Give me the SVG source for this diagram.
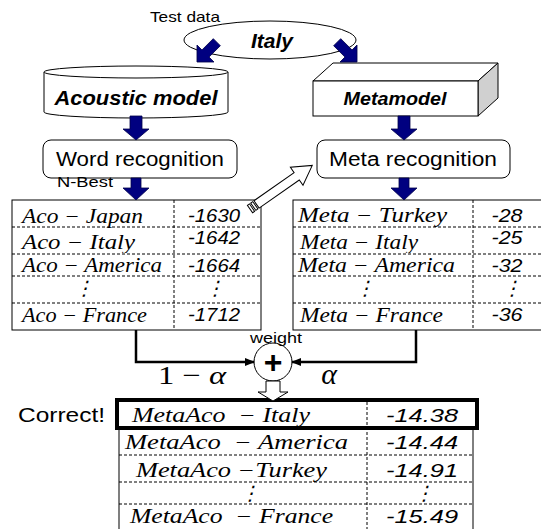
<svg xmlns="http://www.w3.org/2000/svg" width="541" height="529" viewBox="0 0 541 529">
<style>
.sans{font-family:"Liberation Sans",Arial,sans-serif;fill:#000}
.bi{font-family:"Liberation Sans",Arial,sans-serif;font-weight:bold;font-style:italic;fill:#000}
.ser{font-family:"Liberation Serif","Times New Roman",serif;font-style:italic;font-size:20px;fill:#000}
.num{font-family:"Liberation Sans",Arial,sans-serif;font-style:italic;font-size:19px;fill:#000}
.box{fill:#fff;stroke:#000;stroke-width:1}
.navy{fill:#000080;stroke:#00004a;stroke-width:0.8}
.dash{stroke:#000;stroke-width:1;stroke-dasharray:3,2;fill:none}
.conn{stroke:#000;stroke-width:2.5;fill:none}
</style>
<defs>
<marker id="ah" viewBox="0 0 10 10" refX="9" refY="5" markerWidth="4" markerHeight="4" orient="auto" markerUnits="strokeWidth">
<path d="M0,1 L10,5 L0,9 Z" fill="#000"/>
</marker>
<path id="navyDiag" d="M0,0 L-12,-12 L-12,-5 L-28,-5 L-28,5 L-12,5 L-12,12 Z"/>
<clipPath id="clipItalyL"><rect x="0" y="228" width="541" height="25"/></clipPath>
</defs>
<rect width="541" height="529" fill="#fff"/>

<g id="testdata">
<ellipse cx="270" cy="40" rx="86" ry="19" class="box"/>
<text x="150" y="22" class="sans" font-size="15" textLength="70" lengthAdjust="spacingAndGlyphs">Test data</text>
<text x="272" y="48" class="bi" font-size="21" text-anchor="middle">Italy</text>
</g>

<g id="acoustic">
<path d="M44,72 V112 A92,6 0 0 0 228,112 V72" class="box"/>
<ellipse cx="136" cy="72" rx="92" ry="6" class="box"/>
<text x="136" y="105" class="bi" font-size="20" text-anchor="middle" textLength="163" lengthAdjust="spacingAndGlyphs">Acoustic model</text>
</g>

<g id="metamodel">
<polygon points="313,81 333,63 498,63 478,81" class="box"/>
<polygon points="478,81 498,63 498,98 478,116" fill="#d0d0d0" stroke="#000" stroke-width="1"/>
<rect x="313" y="81" width="165" height="35" class="box"/>
<text x="395" y="105" class="bi" font-size="18" text-anchor="middle" textLength="103" lengthAdjust="spacingAndGlyphs">Metamodel</text>
</g>

<g id="wordrec">
<rect x="43" y="140" width="194" height="38" rx="8" class="box"/>
<text x="140" y="166" class="sans" font-size="20" text-anchor="middle" textLength="168" lengthAdjust="spacingAndGlyphs">Word recognition</text>
</g>

<g id="metarec">
<rect x="317" y="140" width="193" height="38" rx="8" class="box"/>
<text x="413" y="166" class="sans" font-size="20" text-anchor="middle" textLength="168" lengthAdjust="spacingAndGlyphs">Meta recognition</text>
</g>

<g id="acotable">
<rect x="12" y="200" width="249" height="130" class="box"/>
<line x1="174" y1="200" x2="174" y2="330" class="dash"/>
<line x1="12" y1="227" x2="261" y2="227" class="dash"/>
<line x1="12" y1="254" x2="261" y2="254" class="dash"/>
<line x1="12" y1="276" x2="261" y2="276" class="dash"/>
<line x1="12" y1="303" x2="261" y2="303" class="dash"/>
<text x="22" y="223" class="ser" textLength="121" lengthAdjust="spacingAndGlyphs">Aco − Japan</text>
<text x="22" y="249" class="ser" textLength="113" lengthAdjust="spacingAndGlyphs" clip-path="url(#clipItalyL)">Aco − Italy</text>
<text x="22" y="272" class="ser" textLength="140" lengthAdjust="spacingAndGlyphs">Aco − America</text>
<text x="84" y="295" class="ser" text-anchor="middle">⋮</text>
<text x="22" y="322" class="ser" textLength="125" lengthAdjust="spacingAndGlyphs">Aco − France</text>
<text x="214" y="222" class="num" text-anchor="middle" textLength="52" lengthAdjust="spacingAndGlyphs">-1630</text>
<text x="214" y="244" class="num" text-anchor="middle" textLength="52" lengthAdjust="spacingAndGlyphs">-1642</text>
<text x="214" y="272" class="num" text-anchor="middle" textLength="52" lengthAdjust="spacingAndGlyphs">-1664</text>
<text x="215" y="295" class="ser" text-anchor="middle">⋮</text>
<text x="214" y="321" class="num" text-anchor="middle" textLength="52" lengthAdjust="spacingAndGlyphs">-1712</text>
</g>

<g id="metatable">
<rect x="293" y="200" width="260" height="130" class="box"/>
<line x1="473" y1="200" x2="473" y2="330" class="dash"/>
<line x1="293" y1="227" x2="541" y2="227" class="dash"/>
<line x1="293" y1="254" x2="541" y2="254" class="dash"/>
<line x1="293" y1="276" x2="541" y2="276" class="dash"/>
<line x1="293" y1="303" x2="541" y2="303" class="dash"/>
<text x="298" y="222" class="ser" textLength="149" lengthAdjust="spacingAndGlyphs">Meta − Turkey</text>
<text x="300" y="249" class="ser" textLength="118" lengthAdjust="spacingAndGlyphs" clip-path="url(#clipItalyL)">Meta − Italy</text>
<text x="298" y="272" class="ser" textLength="157" lengthAdjust="spacingAndGlyphs">Meta − America</text>
<text x="365" y="295" class="ser" text-anchor="middle">⋮</text>
<text x="300" y="322" class="ser" textLength="143" lengthAdjust="spacingAndGlyphs">Meta − France</text>
<text x="507" y="222" class="num" text-anchor="middle" textLength="31" lengthAdjust="spacingAndGlyphs">-28</text>
<text x="507" y="244" class="num" text-anchor="middle" textLength="31" lengthAdjust="spacingAndGlyphs">-25</text>
<text x="507" y="272" class="num" text-anchor="middle" textLength="31" lengthAdjust="spacingAndGlyphs">-32</text>
<text x="512" y="295" class="ser" text-anchor="middle">⋮</text>
<text x="507" y="321" class="num" text-anchor="middle" textLength="31" lengthAdjust="spacingAndGlyphs">-36</text>
</g>

<g id="nbest">
<text x="57" y="187" class="sans" font-size="15" textLength="56" lengthAdjust="spacingAndGlyphs">N-Best</text>
</g>

<g id="combiner">
<circle cx="273" cy="362" r="19" class="box"/>
<text x="273" y="373" class="sans" font-size="32" font-weight="bold" text-anchor="middle">+</text>
<text x="276" y="343" class="sans" font-size="15" text-anchor="middle" textLength="52" lengthAdjust="spacingAndGlyphs">weight</text>
</g>

<g id="labels">
<text x="158" y="384" font-family="Liberation Serif,'Times New Roman',serif" font-size="26" textLength="68" lengthAdjust="spacingAndGlyphs">1 − <tspan font-style="italic">α</tspan></text>
<text x="329" y="384" font-family="Liberation Serif,'Times New Roman',serif" font-size="30" font-style="italic" text-anchor="middle">α</text>
<text x="18" y="422" class="sans" font-size="20" textLength="87" lengthAdjust="spacingAndGlyphs">Correct!</text>
</g>

<g id="resulttable">
<rect x="119" y="428" width="354" height="110" class="box"/>
<line x1="367" y1="402" x2="367" y2="529" class="dash"/>
<line x1="119" y1="455" x2="473" y2="455" class="dash"/>
<line x1="119" y1="482" x2="473" y2="482" class="dash"/>
<line x1="119" y1="504" x2="473" y2="504" class="dash"/>
<text x="132" y="422" class="ser" textLength="178" lengthAdjust="spacingAndGlyphs" xml:space="preserve">MetaAco  − Italy</text>
<text x="125" y="449" class="ser" textLength="223" lengthAdjust="spacingAndGlyphs" xml:space="preserve">MetaAco  − America</text>
<text x="136" y="477" class="ser" textLength="191" lengthAdjust="spacingAndGlyphs">MetaAco −Turkey</text>
<text x="250" y="500" class="ser" text-anchor="middle">⋮</text>
<text x="130" y="523" class="ser" textLength="203" lengthAdjust="spacingAndGlyphs" xml:space="preserve">MetaAco  − France</text>
<text x="422" y="422" class="num" text-anchor="middle" textLength="72" lengthAdjust="spacingAndGlyphs">-14.38</text>
<text x="422" y="449" class="num" text-anchor="middle" textLength="72" lengthAdjust="spacingAndGlyphs">-14.44</text>
<text x="422" y="477" class="num" text-anchor="middle" textLength="72" lengthAdjust="spacingAndGlyphs">-14.91</text>
<text x="424" y="500" class="ser" text-anchor="middle">⋮</text>
<text x="422" y="523" class="num" text-anchor="middle" textLength="72" lengthAdjust="spacingAndGlyphs">-15.49</text>
<rect x="117" y="400" width="360" height="28" fill="none" stroke="#000" stroke-width="4"/>
</g>

<g id="connectors">
<use href="#navyDiag" class="navy" transform="translate(197,62) rotate(135)"/>
<use href="#navyDiag" class="navy" transform="translate(357,62) rotate(45)"/>
<path d="M130,116 V129 H123 L136,140 L149,129 H142 V116 Z" class="navy"/>
<path d="M398,116 V129 H391 L404,140 L417,129 H410 V116 Z" class="navy"/>
<path d="M131,178 V188 H123 L136,200 L149,188 H141 V178 Z" class="navy"/>
<path d="M399,178 V188 H391 L404,200 L417,188 H409 V178 Z" class="navy"/>
<g transform="translate(250,209) rotate(-35)">
<rect x="0" y="-4.5" width="2.5" height="9" class="box"/>
<rect x="4" y="-4.5" width="2.5" height="9" class="box"/>
<path d="M8,-4.5 H57 V-11 L76,0 L57,11 V4.5 H8 Z" class="box"/>
</g>
<path d="M136,330 V362 H254" class="conn" marker-end="url(#ah)"/>
<path d="M416,330 V362 H292" class="conn" marker-end="url(#ah)"/>
<path d="M266,381 V392 H258 L273,401 L288,392 H280 V381 Z" class="box"/>
</g>
</svg>
